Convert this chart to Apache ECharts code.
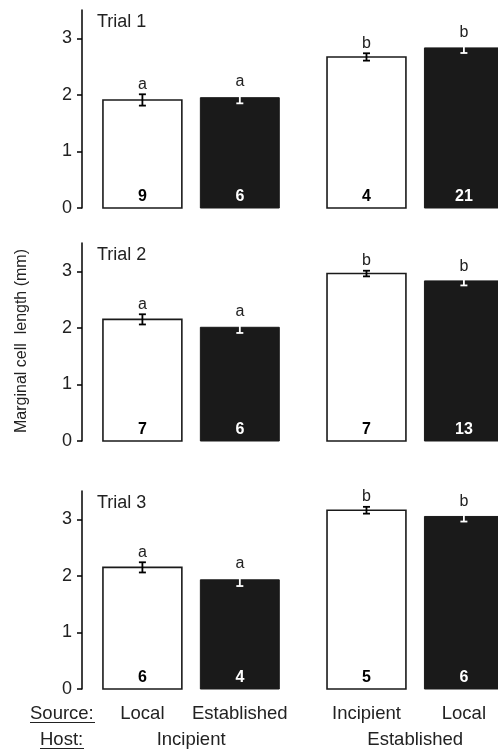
<!DOCTYPE html>
<html>
<head>
<meta charset="utf-8">
<script src="https://cdn.jsdelivr.net/npm/echarts@6/dist/echarts.min.js"></script>
<style>html,body{margin:0;padding:0;background:#fff}#c{width:498px;height:749px}</style>
</head>
<body>
<div id="c"></div>
<script>
// ---- data ----
const trials = ['Trial 1', 'Trial 2', 'Trial 3'];
const sources = ['Local', 'Established', 'Incipient', 'Local'];
const hosts = ['Incipient', 'Established'];
const trial1Means = [1.91, 1.95, 2.67, 2.83];
const trial1SE = [0.10, 0.10, 0.065, 0.09];
const trial1N = [9, 6, 4, 21];
const trial2Means = [2.15, 2.01, 2.96, 2.83];
const trial2SE = [0.09, 0.10, 0.05, 0.08];
const trial2N = [7, 6, 7, 13];
const trial3Means = [2.15, 1.93, 3.16, 3.05];
const trial3SE = [0.09, 0.11, 0.06, 0.09];
const trial3N = [6, 4, 5, 6];
const letters = ['a', 'a', 'b', 'b'];
const yTicks = [0, 1, 2, 3];
const yTitle = 'Marginal cell  length (mm)';

// ---- layout ----
const FONT = '"Liberation Sans", Arial, Helvetica, sans-serif';
const INK = '#1a1a1a';
const GROUP_GAP = 0.3;
const BAR_W = 0.81;
const slot = i => i + (i >= 2 ? GROUP_GAP : 0);
const gridTops = [10, 243, 491];
const GRID_H = 198;

const panels = [
  { means: trial1Means, se: trial1SE, n: trial1N },
  { means: trial2Means, se: trial2SE, n: trial2N },
  { means: trial3Means, se: trial3SE, n: trial3N }
];

const chart = echarts.init(document.getElementById('c'), null, { renderer: 'canvas' });

function makeRender(p, isLast) {
  return function (params, api) {
    const i = params.dataIndex;
    const x = api.value(0), mean = api.value(1), se = api.value(2);
    const top = api.coord([x, mean]);
    const base = api.coord([x, 0]);
    const w = api.size([BAR_W, 0])[0];
    const eTop = api.coord([x, mean + se])[1];
    const eBot = api.coord([x, mean - se])[1];
    const dark = i % 2 === 1;
    const cx = top[0];
    const ec = dark ? '#ffffff' : '#000000';
    const children = [
      { type: 'rect', shape: { x: cx - w / 2, y: top[1], width: w, height: base[1] - top[1] },
        style: dark ? { fill: INK, stroke: INK, lineWidth: 1 } : { fill: '#ffffff', stroke: INK, lineWidth: 1.6 } },
      { type: 'line', shape: { x1: cx, y1: eTop, x2: cx, y2: eBot }, style: { stroke: ec, lineWidth: 1.8 } },
      { type: 'line', shape: { x1: cx - 3.5, y1: eTop, x2: cx + 3.5, y2: eTop }, style: { stroke: ec, lineWidth: 1.8 } },
      { type: 'line', shape: { x1: cx - 3.5, y1: eBot, x2: cx + 3.5, y2: eBot }, style: { stroke: ec, lineWidth: 1.8 } },
      { type: 'text', style: { text: letters[i], x: cx, y: eTop - 2, align: 'center', verticalAlign: 'bottom',
        font: '16px ' + FONT, fill: '#222' } },
      { type: 'text', style: { text: String(p.n[i]), x: cx, y: base[1] - 11, align: 'center', verticalAlign: 'middle',
        font: 'bold 16px ' + FONT, fill: dark ? '#ffffff' : '#000000' } }
    ];
    if (isLast) {
      children.push({ type: 'text', style: { text: sources[i], x: cx, y: base[1] + 25, align: 'center', verticalAlign: 'middle',
        font: '18.5px ' + FONT, fill: '#222' } });
      if (i % 2 === 0) {
        const mid = api.coord([x + (slot(i + 1) - slot(i)) / 2, 0])[0];
        children.push({ type: 'text', style: { text: hosts[i / 2], x: mid, y: base[1] + 51, align: 'center', verticalAlign: 'middle',
          font: '18.5px ' + FONT, fill: '#222' } });
      }
    }
    return { type: 'group', children };
  };
}

const grids = [], xAxes = [], yAxes = [], series = [];
panels.forEach((p, k) => {
  grids.push({ left: 82, right: 0, top: gridTops[k], height: GRID_H, containLabel: false, outerBoundsMode: 'none' });
  xAxes.push({ type: 'value', gridIndex: k, min: -0.62, max: 3.65, show: false });
  yAxes.push({
    type: 'value', gridIndex: k, min: 0, max: 3.5, interval: 1,
    axisLine: { show: true, onZero: false, lineStyle: { color: '#000', width: 1.5 } },
    axisTick: { show: true, length: 5, customValues: yTicks, lineStyle: { color: '#000', width: 1.5 } },
    axisLabel: { customValues: yTicks, margin: 10, fontSize: 18, fontFamily: FONT, color: '#222' },
    splitLine: { show: false }
  });
  series.push({
    type: 'custom', xAxisIndex: k, yAxisIndex: k, clip: false,
    renderItem: makeRender(p, k === 2),
    data: p.means.map((m, i) => [slot(i), m, p.se[i]]),
    encode: { x: 0, y: 1 },
    silent: true
  });
});

const graphic = [
  { type: 'text', x: 22, y: 341, rotation: Math.PI / 2,
    style: { text: yTitle, align: 'center', verticalAlign: 'middle', font: '16px ' + FONT, fill: '#222' } }
];
trials.forEach((t, k) => {
  graphic.push({ type: 'text', x: 97, y: gridTops[k] + 12,
    style: { text: t, align: 'left', verticalAlign: 'middle', font: '18px ' + FONT, fill: '#222' } });
});
graphic.push(
  { type: 'text', x: 30, y: 714, style: { text: 'Source:', align: 'left', verticalAlign: 'middle', font: '18.5px ' + FONT, fill: '#222' } },
  { type: 'line', shape: { x1: 30, y1: 722.5, x2: 95, y2: 722.5 }, style: { stroke: '#222', lineWidth: 1 } },
  { type: 'text', x: 40, y: 740, style: { text: 'Host:', align: 'left', verticalAlign: 'middle', font: '18.5px ' + FONT, fill: '#222' } },
  { type: 'line', shape: { x1: 40, y1: 748.5, x2: 84, y2: 748.5 }, style: { stroke: '#222', lineWidth: 1 } }
);

chart.setOption({
  animation: false,
  backgroundColor: '#ffffff',
  grid: grids, xAxis: xAxes, yAxis: yAxes, series, graphic
});
</script>
</body>
</html>
